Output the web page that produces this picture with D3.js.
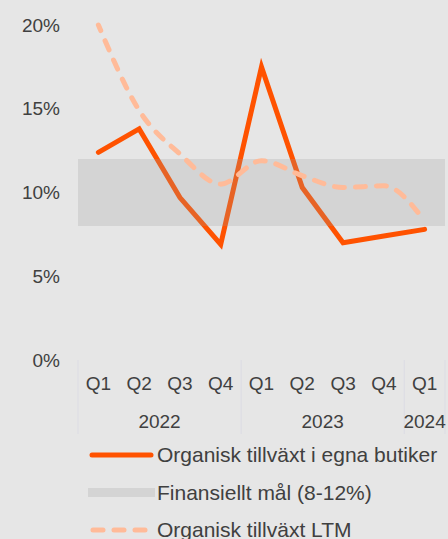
<!DOCTYPE html>
<meta charset="utf-8">
<script src="https://d3js.org/d3.v7.min.js"></script>
<style>
  body { margin: 0; background: #e6e6e6; }
  text { font-family: "Liberation Sans", Arial, sans-serif; fill: #404040; }
</style>
<div id="chart"></div>
<script>

  // data
  var quarters = ["Q1", "Q2", "Q3", "Q4", "Q1", "Q2", "Q3", "Q4", "Q1"];
  var years = ["2022", "2022", "2022", "2022", "2023", "2023", "2023", "2023", "2024"];
  var organic = [12.4, 13.8, 9.7, 6.9, 17.5, 10.3, 7.0, 7.4, 7.8];
  var organicLTM = [20.0, 14.9, 12.3, 10.5, 11.9, 11.0, 10.3, 10.4, 8.3];
  var targetRange = [8, 12];
  var yTicks = [0, 5, 10, 15, 20];

  var width = 448, height = 539;
  var margin = {top: 25, right: 3, bottom: 179, left: 78};

  var svg = d3.select("#chart")
    .append("svg")
    .attr("width", width)
    .attr("height", height);

  svg.append("rect")
    .attr("width", width).attr("height", height)
    .attr("fill", "#e6e6e6");

  var keys = quarters.map(function (q, i) { return i; });

  var x = d3.scaleBand()
    .domain(keys)
    .range([margin.left, width - margin.right]);

  var y = d3.scaleLinear()
    .domain([0, 20])
    .range([height - margin.bottom, margin.top]);

  // y labels
  svg.selectAll(".ylab")
    .data(yTicks)
    .enter().append("text")
    .attr("class", "ylab")
    .attr("x", 60)
    .attr("y", function (d) { return y(d); })
    .attr("dy", "0.35em")
    .attr("text-anchor", "end")
    .style("font-size", "19px")
    .text(function (d) { return d + "%"; });

  var xc = function (i) { return x(i) + x.bandwidth() / 2; };

  // organic line (under the band)
  var line = d3.line()
    .x(function (d, i) { return xc(i); })
    .y(function (d) { return y(d); });

  svg.append("path")
    .datum(organic)
    .attr("d", line)
    .attr("fill", "none")
    .attr("stroke", "#ff5200")
    .attr("stroke-width", 5)
    .attr("stroke-linejoin", "miter")
    .attr("stroke-linecap", "round");

  // target band
  svg.append("rect")
    .attr("x", x.range()[0])
    .attr("width", x.range()[1] - x.range()[0])
    .attr("y", y(targetRange[1]))
    .attr("height", y(targetRange[0]) - y(targetRange[1]))
    .attr("fill", "#999999")
    .attr("fill-opacity", 0.24);

  // LTM dashed
  var smooth = d3.line()
    .x(function (d, i) { return xc(i); })
    .y(function (d) { return y(d); })
    .curve(d3.curveMonotoneX);

  svg.append("path")
    .datum(organicLTM)
    .attr("d", smooth)
    .attr("fill", "none")
    .attr("stroke", "#ffbb99")
    .attr("stroke-width", 5)
    .attr("stroke-dasharray", "10,11")
    .attr("stroke-dashoffset", 4)
    .attr("stroke-linecap", "round");

  // x axis: quarter labels
  var axisTop = y(0);
  svg.selectAll(".qlab")
    .data(quarters)
    .enter().append("text")
    .attr("class", "qlab")
    .attr("x", function (d, i) { return xc(i); })
    .attr("y", axisTop + 30)
    .attr("text-anchor", "middle")
    .style("font-size", "19px")
    .text(function (d) { return d; });

  // year groups
  var groups = d3.groups(keys, function (i) { return years[i]; });
  var seps = [x(0)];
  groups.forEach(function (g) {
    var last = g[1][g[1].length - 1];
    seps.push(x(last) + x.bandwidth());
  });

  svg.selectAll(".sep")
    .data(seps)
    .enter().append("line")
    .attr("x1", function (d) { return d; })
    .attr("x2", function (d) { return d; })
    .attr("y1", axisTop)
    .attr("y2", axisTop + 74)
    .attr("stroke", "#dcdce4")
    .attr("stroke-width", 1);

  svg.selectAll(".ylabel")
    .data(groups)
    .enter().append("text")
    .attr("x", function (g) {
      var a = x(g[1][0]), b = x(g[1][g[1].length - 1]) + x.bandwidth();
      return (a + b) / 2;
    })
    .attr("y", axisTop + 68)
    .attr("text-anchor", "middle")
    .style("font-size", "19px")
    .text(function (g) { return g[0]; });

  // legend
  var leg = svg.append("g");
  leg.append("line")
    .attr("x1", 92).attr("x2", 151)
    .attr("y1", 455).attr("y2", 455)
    .attr("stroke", "#ff5200").attr("stroke-width", 5)
    .attr("stroke-linecap", "round");
  leg.append("text").attr("x", 157).attr("y", 455).attr("dy", "0.35em")
    .style("font-size", "21px").text("Organisk tillväxt i egna butiker");

  leg.append("rect")
    .attr("x", 88).attr("y", 488).attr("width", 67).attr("height", 9)
    .attr("fill", "#999999").attr("fill-opacity", 0.24);
  leg.append("text").attr("x", 157).attr("y", 493).attr("dy", "0.35em")
    .style("font-size", "21px").text("Finansiellt mål (8-12%)");

  leg.append("line")
    .attr("x1", 93).attr("x2", 146)
    .attr("y1", 530).attr("y2", 530)
    .attr("stroke", "#ffbb99").attr("stroke-width", 5)
    .attr("stroke-dasharray", "10,11")
    .attr("stroke-linecap", "round");
  leg.append("text").attr("x", 157).attr("y", 530).attr("dy", "0.35em")
    .style("font-size", "21px").text("Organisk tillväxt LTM");

</script>
